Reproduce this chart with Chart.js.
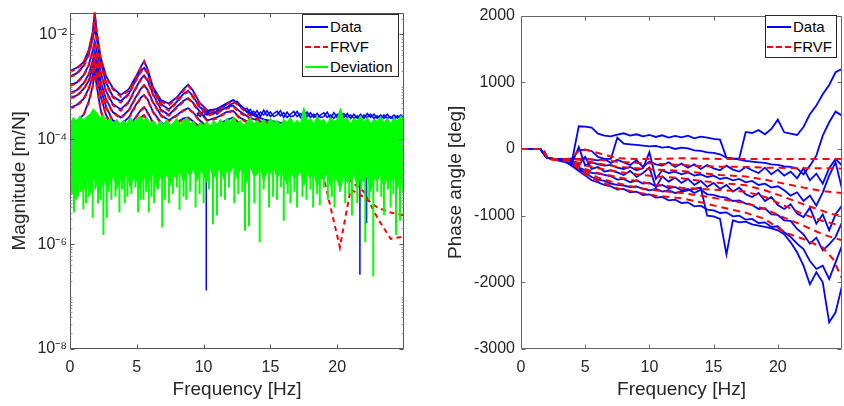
<!DOCTYPE html>
<html><head><meta charset="utf-8">
<script src="https://cdn.jsdelivr.net/npm/chart.js@4.4.1/dist/chart.umd.min.js"></script>
<style>
html,body{margin:0;padding:0;background:#fff;}
#wrap{position:relative;width:844px;height:406px;overflow:hidden;font-family:"Liberation Sans",Arial,sans-serif;}
#c1{position:absolute;left:0;top:0;}
#c2{position:absolute;left:420px;top:0;}
.legend{position:absolute;box-sizing:border-box;background:#fff;border:1px solid #262626;font-size:15px;color:#000;}
.row{position:absolute;left:0;height:18px;line-height:18px;white-space:nowrap;width:100%;}
.sw{position:absolute;top:8px;height:2px;}
.lbl{position:absolute;top:0;}
</style></head>
<body>
<div id="wrap">
  <canvas id="c1" width="420" height="406"></canvas>
  <canvas id="c2" width="424" height="406"></canvas>
  <div class="legend" style="left:302px;top:14px;width:97px;height:63px;">
    <div class="row" style="top:3px;"><span class="sw" style="left:2px;width:23px;background:#0000ff;"></span><span class="lbl" style="left:27px;">Data</span></div>
    <div class="row" style="top:23px;"><span class="sw" style="left:2px;width:23px;background:repeating-linear-gradient(to right,#ff0000 0 6px,transparent 6px 9px);"></span><span class="lbl" style="left:27px;">FRVF</span></div>
    <div class="row" style="top:43px;"><span class="sw" style="left:2px;width:23px;background:#00ff00;"></span><span class="lbl" style="left:27px;">Deviation</span></div>
  </div>
  <div class="legend" style="left:765px;top:15px;width:72px;height:43px;">
    <div class="row" style="top:2px;"><span class="sw" style="left:1px;width:24px;background:#0000ff;"></span><span class="lbl" style="left:27px;">Data</span></div>
    <div class="row" style="top:22px;"><span class="sw" style="left:1px;width:24px;background:repeating-linear-gradient(to right,#ff0000 0 6px,transparent 6px 9px);"></span><span class="lbl" style="left:27px;">FRVF</span></div>
  </div>
</div>
<script>
// ---------------- axis ticks ----------------
const freqTicks = [0, 5, 10, 15, 20];
const magTickValues = [1e-8, 1e-6, 1e-4, 1e-2];
const magTickLabels = ['10⁻⁸', '10⁻⁶', '10⁻⁴', '10⁻²'];
const phaseTickValues = [-3000, -2000, -1000, 0, 1000, 2000];

// ---------------- magnitude: FRVF fits and measured data [m/N] ----------------
const magFreq = [0, 0.5, 1.0, 1.4, 1.7, 1.85, 2.0, 2.3, 2.7, 3.2, 3.8, 4.4, 4.9, 5.3, 5.55, 5.8, 6.2, 6.8, 7.4, 8.0, 8.5, 8.85, 9.2, 9.7, 10.3, 11.0, 11.7, 12.2, 12.7, 13.4, 14.5, 16, 17.5, 19, 20.2, 21, 22, 23, 24, 25];
const magFit1 = [1.9e-3, 2.2e-3, 2.8e-3, 4.8e-3, 1.05e-2, 2.5e-2, 1.15e-2, 3.5e-3, 1.5e-3, 9.0e-4, 6.5e-4, 8.5e-4, 1.4e-3, 2.3e-3, 3.0e-3, 2.1e-3, 9.5e-4, 5.2e-4, 4.5e-4, 6.0e-4, 8.5e-4, 1.05e-3, 8.0e-4, 4.8e-4, 3.3e-4, 3.5e-4, 4.6e-4, 5.4e-4, 4.2e-4, 2.9e-4, 2.2e-4, 1.8e-4, 1.6e-4, 1.4e-4, 1.26e-4, 1.26e-4, 1.12e-4, 1.0e-4, 1.0e-4, 9.0e-5];
const magFit2 = [1.55e-3, 1.74e-3, 2.4e-3, 4.0e-3, 7.9e-3, 1.26e-2, 7.9e-3, 2.8e-3, 1.12e-3, 6.3e-4, 5.0e-4, 7.1e-4, 1.26e-3, 1.9e-3, 2.2e-3, 1.8e-3, 8.9e-4, 4.5e-4, 3.5e-4, 5.0e-4, 7.1e-4, 8.1e-4, 6.3e-4, 4.0e-4, 2.8e-4, 3.2e-4, 3.8e-4, 4.2e-4, 3.2e-4, 2.5e-4, 2.0e-4, 1.6e-4, 1.4e-4, 1.26e-4, 1.12e-4, 1.0e-4, 1.0e-4, 8.9e-5, 7.9e-5, 7.9e-5];
const magFit3 = [1.05e-3, 1.17e-3, 1.58e-3, 2.5e-3, 4.7e-3, 7.1e-3, 4.7e-3, 1.78e-3, 7.9e-4, 4.5e-4, 3.5e-4, 5.0e-4, 8.9e-4, 1.35e-3, 1.6e-3, 1.3e-3, 7.1e-4, 3.5e-4, 2.8e-4, 4.0e-4, 5.2e-4, 5.9e-4, 4.8e-4, 3.2e-4, 2.2e-4, 2.5e-4, 3.2e-4, 3.4e-4, 2.5e-4, 2.0e-4, 1.6e-4, 1.26e-4, 1.12e-4, 1.0e-4, 8.9e-5, 7.9e-5, 7.9e-5, 7.1e-5, 6.3e-5, 6.3e-5];
const magFit4 = [7.4e-4, 8.3e-4, 1.12e-3, 1.66e-3, 3.0e-3, 4.6e-3, 3.0e-3, 1.2e-3, 5.6e-4, 3.2e-4, 2.5e-4, 3.5e-4, 6.0e-4, 8.9e-4, 1.05e-3, 8.5e-4, 5.0e-4, 2.8e-4, 2.2e-4, 2.8e-4, 3.5e-4, 3.8e-4, 3.2e-4, 2.2e-4, 1.6e-4, 1.8e-4, 2.2e-4, 2.5e-4, 1.9e-4, 1.4e-4, 1.1e-4, 8.9e-5, 7.9e-5, 6.3e-5, 5.0e-5, 4.5e-5, 4.0e-5, 3.5e-5, 3.2e-5, 3.0e-5];
const magFit5 = [5.9e-4, 6.6e-4, 8.7e-4, 1.26e-3, 2.2e-3, 3.4e-3, 2.2e-3, 8.9e-4, 4.0e-4, 2.2e-4, 1.8e-4, 2.5e-4, 4.2e-4, 6.0e-4, 6.8e-4, 5.6e-4, 3.3e-4, 2.0e-4, 1.6e-4, 2.0e-4, 2.4e-4, 2.5e-4, 2.1e-4, 1.6e-4, 1.12e-4, 1.26e-4, 1.4e-4, 1.6e-4, 1.26e-4, 1.0e-4, 7.9e-5, 6.3e-5, 5.6e-5, 5.0e-5, 4.0e-5, 3.5e-5, 3.2e-5, 3.0e-5, 3.0e-5, 3.0e-5];
const magFit6 = [3.8e-4, 4.3e-4, 5.6e-4, 8.9e-4, 1.58e-3, 2.7e-3, 1.58e-3, 6.3e-4, 2.8e-4, 1.6e-4, 1.26e-4, 1.6e-4, 2.5e-4, 3.5e-4, 4.0e-4, 3.2e-4, 2.0e-4, 1.26e-4, 1.0e-4, 1.26e-4, 1.6e-4, 1.66e-4, 1.4e-4, 1.0e-4, 7.9e-5, 8.9e-5, 1.0e-4, 1.05e-4, 8.9e-5, 7.1e-5, 5.6e-5, 4.5e-5, 3.5e-5, 2.8e-5, 2.2e-5, 1.6e-5, 1.0e-5, 3.2e-6, 1.26e-6, 1.4e-6];
const magFit7 = [1.8e-4, 2.1e-4, 2.8e-4, 5.0e-4, 1.0e-3, 1.78e-3, 1.0e-3, 3.5e-4, 1.6e-4, 1.0e-4, 8.9e-5, 1.12e-4, 1.78e-4, 2.5e-4, 2.8e-4, 2.2e-4, 1.4e-4, 8.9e-5, 7.9e-5, 1.0e-4, 1.12e-4, 1.2e-4, 1.0e-4, 7.9e-5, 6.3e-5, 7.1e-5, 7.9e-5, 8.3e-5, 7.1e-5, 5.6e-5, 4.5e-5, 3.5e-5, 2.5e-5, 1.8e-5, 8.7e-7, 1.1e-5, 7.9e-6, 5.0e-6, 4.0e-6, 3.5e-6];

const magData1 = [2.0e-3, 2.3e-3, 2.9e-3, 5.0e-3, 1.1e-2, 2.6e-2, 1.1e-2, 3.6e-3, 1.6e-3, 9.5e-4, 7.0e-4, 9.0e-4, 1.5e-3, 2.4e-3, 3.1e-3, 2.2e-3, 1.0e-3, 5.6e-4, 4.8e-4, 6.3e-4, 9.0e-4, 1.1e-3, 8.5e-4, 5.0e-4, 3.5e-4, 3.8e-4, 4.8e-4, 5.6e-4, 4.4e-4, 3.1e-4, 2.4e-4, 2.0e-4, 1.8e-4, 1.6e-4, 1.5e-4, 1.4e-4, 1.3e-4, 1.2e-4, 1.1e-4, 1.0e-4];
const magData2 = [1.6e-3, 1.8e-3, 2.5e-3, 4.2e-3, 8.2e-3, 1.3e-2, 8.2e-3, 2.9e-3, 1.2e-3, 6.6e-4, 5.3e-4, 7.4e-4, 1.3e-3, 2.0e-3, 2.3e-3, 1.9e-3, 9.3e-4, 4.7e-4, 3.7e-4, 5.2e-4, 7.4e-4, 8.4e-4, 6.6e-4, 4.2e-4, 3.0e-4, 3.4e-4, 4.0e-4, 4.4e-4, 3.4e-4, 2.6e-4, 2.1e-4, 1.7e-4, 1.5e-4, 1.3e-4, 1.2e-4, 1.1e-4, 1.0e-4, 9.0e-5, 8.5e-5, 8.0e-5];
const magData3 = [1.1e-3, 1.2e-3, 1.65e-3, 2.6e-3, 4.9e-3, 7.3e-3, 4.9e-3, 1.85e-3, 8.3e-4, 4.7e-4, 3.7e-4, 5.2e-4, 9.3e-4, 1.4e-3, 1.65e-3, 1.35e-3, 7.4e-4, 3.7e-4, 2.9e-4, 4.2e-4, 5.4e-4, 6.1e-4, 5.0e-4, 3.4e-4, 2.3e-4, 2.6e-4, 3.3e-4, 3.5e-4, 2.6e-4, 2.1e-4, 1.7e-4, 1.3e-4, 1.2e-4, 1.05e-4, 9.5e-5, 8.5e-5, 8.0e-5, 7.5e-5, 7.0e-5, 6.5e-5];
const magData4 = [7.7e-4, 8.6e-4, 1.16e-3, 1.72e-3, 3.1e-3, 4.8e-3, 3.1e-3, 1.25e-3, 5.8e-4, 3.3e-4, 2.6e-4, 3.6e-4, 6.2e-4, 9.2e-4, 1.08e-3, 8.8e-4, 5.2e-4, 2.9e-4, 2.3e-4, 2.9e-4, 3.6e-4, 3.9e-4, 3.3e-4, 2.3e-4, 1.7e-4, 1.9e-4, 2.3e-4, 2.6e-4, 2.0e-4, 1.5e-4, 1.2e-4, 9.5e-5, 8.5e-5, 7.0e-5, 6.0e-5, 5.5e-5, 5.0e-5, 4.5e-5, 4.0e-5, 4.0e-5];
const magData5 = [6.1e-4, 6.8e-4, 9.0e-4, 1.3e-3, 2.3e-3, 3.5e-3, 2.3e-3, 9.2e-4, 4.2e-4, 2.3e-4, 1.9e-4, 2.6e-4, 4.4e-4, 6.2e-4, 7.0e-4, 5.8e-4, 3.4e-4, 2.1e-4, 1.7e-4, 2.1e-4, 2.5e-4, 2.6e-4, 2.2e-4, 1.7e-4, 1.2e-4, 1.3e-4, 1.5e-4, 1.7e-4, 1.3e-4, 1.05e-4, 8.5e-5, 7.0e-5, 6.0e-5, 5.5e-5, 5.0e-5, 4.5e-5, 4.0e-5, 4.0e-5, 4.0e-5, 4.0e-5];
const magData6 = [4.0e-4, 4.5e-4, 5.8e-4, 9.2e-4, 1.63e-3, 2.8e-3, 1.63e-3, 6.5e-4, 2.9e-4, 1.7e-4, 1.3e-4, 1.7e-4, 2.6e-4, 3.6e-4, 4.1e-4, 3.3e-4, 2.1e-4, 1.3e-4, 1.05e-4, 1.3e-4, 1.65e-4, 1.7e-4, 1.45e-4, 1.05e-4, 8.3e-5, 9.3e-5, 1.05e-4, 1.1e-4, 9.3e-5, 7.5e-5, 6.0e-5, 5.0e-5, 4.5e-5, 4.0e-5, 4.0e-5, 3.8e-5, 3.6e-5, 3.5e-5, 3.5e-5, 3.5e-5];
const magData7 = [1.9e-4, 2.2e-4, 2.9e-4, 5.2e-4, 1.04e-3, 1.85e-3, 1.04e-3, 3.6e-4, 1.7e-4, 1.05e-4, 9.3e-5, 1.17e-4, 1.85e-4, 2.6e-4, 2.9e-4, 2.3e-4, 1.45e-4, 9.3e-5, 8.3e-5, 1.05e-4, 1.17e-4, 1.25e-4, 1.05e-4, 8.3e-5, 6.6e-5, 7.4e-5, 8.3e-5, 8.7e-5, 7.4e-5, 6.0e-5, 5.0e-5, 4.5e-5, 4.0e-5, 4.0e-5, 3.8e-5, 3.6e-5, 3.5e-5, 3.5e-5, 3.5e-5, 3.5e-5];

// measured noise floor of the data showing above the deviation band
const blueNoiseFreq = [9.5, 9.75, 10, 10.25, 10.5, 10.75, 11, 11.25, 11.5, 11.75, 12, 12.25, 12.5, 12.75, 13, 13.25, 13.5, 13.75, 14, 14.25, 14.5, 14.75, 15, 15.25, 15.5, 15.75, 16, 16.25, 16.5, 16.75, 17, 17.25, 17.5, 17.75, 18, 18.25, 18.5, 18.75, 19, 19.25, 19.5, 19.75, 20, 20.25, 20.5, 20.75, 21, 21.25, 21.5, 21.75, 22, 22.25, 22.5, 22.75, 23, 23.25, 23.5, 23.75, 24, 24.25, 24.5, 24.75, 25];
const blueNoise = [3.2e-4, 2.7e-4, 3.4e-4, 2.9e-4, 3.6e-4, 3.0e-4, 3.5e-4, 3.9e-4, 4.2e-4, 4.6e-4, 5.2e-4, 5.6e-4, 4.8e-4, 4.2e-4, 3.6e-4, 3.9e-4, 3.1e-4, 3.4e-4, 2.8e-4, 3.3e-4, 2.9e-4, 3.5e-4, 2.7e-4, 3.1e-4, 3.4e-4, 2.8e-4, 3.2e-4, 2.6e-4, 3.0e-4, 3.4e-4, 2.7e-4, 3.1e-4, 2.8e-4, 3.3e-4, 2.6e-4, 3.0e-4, 2.5e-4, 2.9e-4, 3.2e-4, 2.6e-4, 2.9e-4, 2.5e-4, 3.0e-4, 2.7e-4, 3.1e-4, 2.6e-4, 2.9e-4, 2.5e-4, 2.8e-4, 2.4e-4, 2.9e-4, 2.6e-4, 3.0e-4, 2.5e-4, 2.8e-4, 2.4e-4, 2.9e-4, 2.5e-4, 2.7e-4, 2.4e-4, 2.8e-4, 2.5e-4, 2.7e-4];
const blueNoise2 = [2.8e-4, 3.3e-4, 2.7e-4, 3.5e-4, 2.9e-4, 3.6e-4, 3.0e-4, 3.4e-4, 3.8e-4, 4.0e-4, 4.6e-4, 4.9e-4, 5.3e-4, 4.5e-4, 4.0e-4, 3.3e-4, 3.7e-4, 2.9e-4, 3.5e-4, 2.7e-4, 3.6e-4, 2.8e-4, 3.3e-4, 2.7e-4, 2.9e-4, 3.5e-4, 2.6e-4, 3.3e-4, 2.7e-4, 2.8e-4, 3.4e-4, 2.6e-4, 3.5e-4, 2.7e-4, 3.2e-4, 2.6e-4, 3.1e-4, 2.6e-4, 2.7e-4, 3.3e-4, 2.5e-4, 3.2e-4, 2.6e-4, 3.5e-4, 2.6e-4, 3.1e-4, 2.5e-4, 3.0e-4, 2.5e-4, 3.0e-4, 2.5e-4, 3.1e-4, 2.6e-4, 3.0e-4, 2.5e-4, 2.9e-4, 2.5e-4, 3.0e-4, 2.5e-4, 2.9e-4, 2.5e-4, 2.9e-4, 2.5e-4];
const blueSpikeFreq = [10.2, 21.7, 22.2];
const blueSpikeLow = [1.3e-7, 2.6e-7, 2.5e-6];

// deviation band: upper edge, lower edge, dips
const devFreq = [0, 0.25, 0.5, 0.75, 1, 1.25, 1.5, 1.75, 2, 2.25, 2.5, 2.75, 3, 3.25, 3.5, 3.75, 4, 4.25, 4.5, 4.75, 5, 5.25, 5.5, 5.75, 6, 6.25, 6.5, 6.75, 7, 7.25, 7.5, 7.75, 8, 8.25, 8.5, 8.75, 9, 9.25, 9.5, 9.75, 10, 10.25, 10.5, 10.75, 11, 11.25, 11.5, 11.75, 12, 12.25, 12.5, 12.75, 13, 13.25, 13.5, 13.75, 14, 14.25, 14.5, 14.75, 15, 15.25, 15.5, 15.75, 16, 16.25, 16.5, 16.75, 17, 17.25, 17.5, 17.75, 18, 18.25, 18.5, 18.75, 19, 19.25, 19.5, 19.75, 20, 20.25, 20.5, 20.75, 21, 21.25, 21.5, 21.75, 22, 22.25, 22.5, 22.75, 23, 23.25, 23.5, 23.75, 24, 24.25, 24.5, 24.75, 25];
const devUpper = [2.0e-4, 2.6e-4, 2.2e-4, 2.8e-4, 2.3e-4, 2.7e-4, 3.0e-4, 3.8e-4, 3.2e-4, 2.6e-4, 2.9e-4, 2.2e-4, 2.5e-4, 2.0e-4, 2.4e-4, 1.9e-4, 2.3e-4, 2.0e-4, 2.6e-4, 2.1e-4, 2.4e-4, 2.8e-4, 2.3e-4, 2.6e-4, 2.0e-4, 2.3e-4, 1.8e-4, 2.2e-4, 1.9e-4, 2.4e-4, 1.8e-4, 2.1e-4, 2.5e-4, 1.9e-4, 2.3e-4, 2.6e-4, 2.0e-4, 2.2e-4, 1.7e-4, 2.1e-4, 1.8e-4, 2.2e-4, 1.7e-4, 2.3e-4, 1.9e-4, 2.4e-4, 2.0e-4, 2.5e-4, 2.1e-4, 2.7e-4, 2.0e-4, 2.3e-4, 1.8e-4, 2.2e-4, 2.6e-4, 1.9e-4, 2.3e-4, 2.0e-4, 2.4e-4, 1.9e-4, 2.5e-4, 2.1e-4, 2.3e-4, 1.8e-4, 2.4e-4, 2.1e-4, 2.6e-4, 2.0e-4, 2.3e-4, 2.0e-4, 4.0e-4, 2.2e-4, 2.5e-4, 2.0e-4, 2.7e-4, 2.2e-4, 2.4e-4, 1.9e-4, 2.6e-4, 2.2e-4, 2.4e-4, 3.9e-4, 2.3e-4, 2.6e-4, 2.0e-4, 2.5e-4, 2.2e-4, 2.8e-4, 2.1e-4, 2.6e-4, 2.0e-4, 2.4e-4, 2.2e-4, 2.7e-4, 2.1e-4, 2.5e-4, 2.0e-4, 2.6e-4, 2.2e-4, 2.8e-4, 2.4e-4];
const devLower = [1.4e-5, 1.1e-5, 2.0e-5, 1.3e-5, 1.0e-5, 1.8e-5, 1.2e-5, 2.2e-5, 1.3e-5, 0.9e-5, 1.9e-5, 1.2e-5, 1.4e-5, 2.1e-5, 1.1e-5, 1.7e-5, 1.5e-5, 2.2e-5, 1.2e-5, 1.8e-5, 1.6e-5, 1.1e-5, 2.3e-5, 1.4e-5, 1.7e-5, 2.4e-5, 1.2e-5, 1.9e-5, 1.6e-5, 2.2e-5, 1.3e-5, 2.0e-5, 1.8e-5, 2.6e-5, 1.5e-5, 2.4e-5, 2.0e-5, 2.8e-5, 1.6e-5, 2.5e-5, 2.1e-5, 1.5e-5, 2.9e-5, 1.8e-5, 2.2e-5, 3.0e-5, 1.7e-5, 2.6e-5, 2.3e-5, 3.2e-5, 1.8e-5, 2.7e-5, 2.2e-5, 1.5e-5, 3.0e-5, 2.0e-5, 2.1e-5, 2.8e-5, 1.6e-5, 2.5e-5, 2.2e-5, 3.1e-5, 1.7e-5, 2.6e-5, 2.0e-5, 1.4e-5, 2.7e-5, 1.8e-5, 1.9e-5, 2.5e-5, 1.3e-5, 2.2e-5, 1.8e-5, 2.4e-5, 1.2e-5, 2.0e-5, 1.7e-5, 2.3e-5, 1.3e-5, 2.1e-5, 1.6e-5, 1.1e-5, 2.2e-5, 1.5e-5, 1.7e-5, 2.3e-5, 1.2e-5, 1.9e-5, 1.5e-5, 2.1e-5, 1.0e-5, 1.8e-5, 1.6e-5, 2.2e-5, 1.2e-5, 1.9e-5, 1.5e-5, 2.0e-5, 1.1e-5, 1.8e-5, 1.6e-5];
const spikeTop = 3.0e-5;
const spikeFreq = [0.3, 0.6, 1.0, 1.4, 1.7, 2.1, 2.5, 2.75, 3.1, 3.7, 4.3, 5.1, 5.5, 5.9, 6.3, 6.9, 7.4, 8.2, 8.7, 9.4, 10.0, 10.7, 11.0, 11.6, 12.3, 13.1, 13.4, 13.8, 14.2, 14.9, 15.5, 16.0, 16.5, 17.0, 17.7, 18.2, 18.7, 19.3, 19.8, 20.6, 21.1, 21.5, 22.1, 22.7, 23.5, 24.0, 24.4, 24.7];
const spikeLow = [4.0e-6, 8.0e-6, 4.6e-6, 8.0e-6, 3.2e-6, 6.0e-6, 1.5e-6, 3.2e-6, 7.0e-6, 4.0e-6, 8.0e-6, 4.0e-6, 7.0e-6, 4.0e-6, 6.0e-6, 2.1e-6, 6.0e-6, 4.5e-6, 7.0e-6, 5.0e-6, 6.0e-6, 2.4e-6, 3.5e-6, 7.0e-6, 6.0e-6, 1.8e-6, 2.2e-6, 6.0e-6, 1.1e-6, 5.0e-6, 7.0e-6, 2.8e-6, 6.0e-6, 5.0e-6, 7.0e-6, 5.0e-6, 5.5e-6, 7.0e-6, 5.0e-6, 6.0e-6, 3.5e-6, 6.0e-6, 1.1e-6, 2.4e-7, 3.6e-6, 5.0e-6, 1.5e-6, 2.8e-6];
const shallowSpikeFreq = [0.15, 0.45, 0.8, 1.2, 1.55, 1.9, 2.3, 2.9, 3.4, 3.9, 4.1, 4.6, 4.9, 5.3, 5.7, 6.1, 6.6, 7.1, 7.7, 8.0, 8.5, 9.0, 9.7, 10.4, 11.3, 11.9, 12.6, 12.9, 14.5, 15.2, 15.8, 16.3, 16.8, 17.4, 18.0, 18.5, 19.0, 19.6, 20.2, 20.9, 21.8, 22.4, 23.0, 23.3, 23.8, 24.2, 24.9];
const shallowSpikeLow = [9e-6, 7e-6, 1.0e-5, 6e-6, 9e-6, 1.1e-5, 7e-6, 1.0e-5, 8e-6, 1.1e-5, 6e-6, 9e-6, 1.2e-5, 7e-6, 1.0e-5, 8e-6, 1.1e-5, 7e-6, 9e-6, 1.2e-5, 8e-6, 1.0e-5, 9e-6, 1.1e-5, 8e-6, 1.2e-5, 9e-6, 1.0e-5, 1.1e-5, 8e-6, 1.2e-5, 9e-6, 1.0e-5, 8e-6, 1.1e-5, 9e-6, 1.2e-5, 8e-6, 1.0e-5, 9e-6, 1.1e-5, 7e-6, 1.0e-5, 8e-6, 1.1e-5, 9e-6, 1.0e-5];

// ---------------- phase angle [deg] ----------------
const phFitFreq = [0, 1.7, 2.1, 3.8, 4.5, 5, 6, 7.5, 9, 10.5, 12.5, 14, 15.5, 17.5, 19, 20.5, 22, 23.5, 24.3, 25];
const phFit1 = [0, 0, -150, -150, -30, -10, -60, -140, -150, -150, -140, -145, -150, -150, -150, -150, -150, -150, -150, -150];
const phFit2 = [0, 0, -150, -150, -150, -150, -160, -190, -210, -220, -240, -255, -265, -270, -280, -285, -290, -290, -290, -295];
const phFit3 = [0, 0, -150, -150, -160, -180, -220, -265, -290, -310, -330, -360, -390, -412, -460, -520, -580, -630, -650, -660];
const phFit4 = [0, 0, -150, -160, -210, -245, -290, -340, -380, -410, -440, -480, -510, -544, -620, -720, -830, -930, -980, -1000];
const phFit5 = [0, 0, -150, -170, -250, -300, -360, -420, -480, -540, -580, -600, -615, -640, -720, -850, -980, -1080, -1120, -1150];
const phFit6 = [0, 0, -150, -180, -280, -330, -430, -515, -580, -620, -660, -700, -750, -809, -900, -1030, -1150, -1280, -1330, -1370];
const phFit7 = [0, 0, -150, -190, -300, -380, -480, -590, -650, -700, -740, -800, -870, -956, -1050, -1250, -1350, -1480, -1650, -1940];

const phDataFreq = [0, 0.5, 1, 1.5, 2, 2.5, 3, 3.5, 4, 4.5, 5, 5.5, 6, 6.5, 7, 7.5, 8, 8.5, 9, 9.5, 10, 10.5, 11, 11.5, 12, 12.5, 13, 13.5, 14, 14.5, 15, 15.5, 16, 16.5, 17, 17.5, 18, 18.5, 19, 19.5, 20, 20.5, 21, 21.5, 22, 22.5, 23, 23.5, 24, 24.5, 25];
const phData1 = [0, 0, 0, 0, -130, -150, -150, -155, -150, 340, 335, 320, 230, 200, 190, 215, 235, 200, 220, 190, 210, 180, 205, 170, 195, 175, 200, 160, 185, 170, 150, 140, -130, -150, -140, 255, 240, 285, 220, 300, 440, 250, 230, 210, 330, 520, 650, 820, 960, 1150, 1200];
const phData2 = [0, 0, 0, 0, -130, -150, -150, -150, -140, -20, -10, -30, -120, -150, -150, 170, 80, 70, 60, 50, 40, 45, 20, 30, 0, 20, 10, -20, -30, -50, -60, -80, -130, -140, -160, -180, -190, -200, -210, -230, -240, -260, -270, -290, -380, -250, -100, 200, 400, 560, 500];
const phData3 = [0, 0, 0, 0, -130, -150, -150, -150, -150, -150, -140, -160, -170, -150, -210, -160, -200, -240, -170, -270, -190, -230, -250, -200, -270, -220, -280, -230, -300, -240, -290, -320, -250, -310, -340, -270, -320, -360, -280, -380, -310, -400, -340, -440, -290, -470, -370, -520, -290, -150, -250];
const phData4 = [0, 0, 0, 0, -130, -150, -150, -150, -200, 30, -250, -200, -230, -250, -240, -280, -300, -270, -320, -290, -50, -450, -320, -360, -340, -380, -350, -400, -380, -420, -400, -450, -430, -470, -450, -500, -480, -540, -520, -580, -560, -620, -700, -650, -780, -700, -850, -650, -400, -200, -600];
const phData5 = [0, 0, 0, 0, -130, -150, -155, -160, -180, -240, -120, -300, -270, -340, -320, -350, -390, -330, -420, -360, -280, -580, -410, -490, -430, -510, -450, -540, -480, -570, -510, -600, -540, -640, -580, -680, -720, -660, -780, -720, -840, -900, -830, -970, -1020, -880, -1120, -980, -1220, -980, -850];
const phData6 = [0, 0, 0, 0, -130, -150, -160, -170, -220, -280, -320, -360, -370, -390, -410, -460, -450, -500, -470, -520, -510, -560, -540, -590, -570, -620, -600, -660, -610, -680, -690, -720, -730, -780, -770, -820, -840, -900, -890, -980, -990, -1070, -1080, -1200, -1280, -1420, -1330, -1520, -1430, -1320, -1100];
const phData7 = [0, 0, 0, 0, -130, -150, -170, -180, -250, -300, -360, -420, -460, -480, -520, -540, -550, -570, -560, -600, -620, -600, -640, -620, -660, -640, -620, -600, -580, -1000, -1010, -1050, -1580, -1070, -1100, -1090, -1130, -1150, -1170, -1190, -1220, -1280, -1400, -1550, -1750, -2030, -1850, -2000, -2600, -2450, -2050];
const phData8 = [0, 0, 0, 0, -130, -150, -180, -200, -260, -330, -400, -470, -500, -540, -560, -610, -600, -650, -640, -690, -680, -730, -720, -770, -760, -810, -800, -860, -850, -910, -920, -960, -950, -1010, -1000, -1060, -1050, -1110, -1100, -1170, -1160, -1250, -1320, -1420, -1500, -1680, -1800, -1750, -1950, -1700, -1450];

// ---------------- rendering ----------------
const BLUE = '#0000ff', RED = '#ff0000', GREEN = '#00ff00', INK = '#262626';
Chart.defaults.font.family = '"Liberation Sans", Arial, sans-serif';
Chart.defaults.color = INK;

function pts(xs, ys) { return xs.map((x, i) => ({ x: x, y: ys[i] })); }
function spikes(xs, lows, top) {
  const out = [];
  xs.forEach((x, i) => { out.push({ x: x, y: top }, { x: x, y: lows[i] }, { x: x, y: null }); });
  return out;
}

const boxPlugin = {
  id: 'box',
  afterDraw(chart, args, o) {
    const ctx = chart.ctx, a = chart.chartArea, xs = chart.scales.x, ys = chart.scales.y;
    const L = Math.round(a.left) + 0.5, R = Math.round(a.right) - 0.5;
    const T = Math.round(a.top) + 0.5, B = Math.round(a.bottom) - 0.5;
    ctx.save();
    ctx.strokeStyle = o.color; ctx.lineWidth = 1;
    ctx.beginPath(); ctx.rect(L, T, R - L, B - T); ctx.stroke();
    ctx.beginPath();
    const tl = 4;
    xs.ticks.forEach(t => { const p = Math.round(xs.getPixelForValue(t.value)) + 0.5;
      ctx.moveTo(p, B); ctx.lineTo(p, B - tl); ctx.moveTo(p, T); ctx.lineTo(p, T + tl); });
    ys.ticks.forEach(t => { const p = Math.round(ys.getPixelForValue(t.value)) + 0.5;
      ctx.moveTo(L, p); ctx.lineTo(L + tl, p); ctx.moveTo(R, p); ctx.lineTo(R - tl, p); });
    ctx.stroke();
    if (o.logMinor) {
      ctx.strokeStyle = '#999'; ctx.beginPath();
      for (let e = -8; e <= -2; e++) for (let m = 1; m < 10; m++) {
        const v = m * Math.pow(10, e);
        if (v > ys.max || (m === 1 && e % 2 === 0)) continue;
        const p = Math.round(ys.getPixelForValue(v)) + 0.5;
        ctx.moveTo(L, p); ctx.lineTo(L + 2, p); ctx.moveTo(R, p); ctx.lineTo(R - 2, p);
      }
      ctx.stroke();
    }
    ctx.restore();
  }
};

function xAxis() {
  return {
    type: 'linear', min: 0, max: 25,
    grid: { display: false, drawTicks: false }, border: { display: false },
    afterBuildTicks: s => { s.ticks = freqTicks.map(v => ({ value: v })); },
    ticks: { font: { size: 16 }, color: INK, padding: 9, autoSkip: false, maxRotation: 0, callback: v => String(v) },
    title: { display: true, text: 'Frequency [Hz]', font: { size: 19 }, color: INK, padding: { top: 0, bottom: 5 } },
    afterFit: s => { s.height = 57; }
  };
}

const common = {
  responsive: false, animation: false, devicePixelRatio: 1, events: [],
  elements: { point: { radius: 0 }, line: { tension: 0 } },
};

// magnitude chart
const magDatasets = [];
magDatasets.push({ data: pts(devFreq, devUpper), borderColor: GREEN, backgroundColor: GREEN, borderWidth: 1, fill: '+1', order: 10 });
magDatasets.push({ data: pts(devFreq, devLower), borderColor: GREEN, borderWidth: 1, fill: false, order: 11 });
magDatasets.push({ data: spikes(spikeFreq, spikeLow, spikeTop), borderColor: GREEN, borderWidth: 2, fill: false, order: 5 });
magDatasets.push({ data: spikes(shallowSpikeFreq, shallowSpikeLow, spikeTop), borderColor: GREEN, borderWidth: 2, fill: false, order: 6 });
magDatasets.push({ data: spikes(blueSpikeFreq, blueSpikeLow, spikeTop), borderColor: BLUE, borderWidth: 1.5, fill: false, order: 40 });
magDatasets.push({ data: pts(blueNoiseFreq, blueNoise), borderColor: BLUE, borderWidth: 1.5, fill: false, order: 35 });
magDatasets.push({ data: pts(blueNoiseFreq, blueNoise2), borderColor: BLUE, borderWidth: 1.5, fill: false, order: 36 });
[magData1, magData2, magData3, magData4, magData5, magData6, magData7].forEach(d =>
  magDatasets.push({ data: pts(magFreq, d), borderColor: BLUE, borderWidth: 1.8, fill: false, order: 30 }));
[magFit1, magFit2, magFit3, magFit4, magFit5, magFit6, magFit7].forEach(d =>
  magDatasets.push({ data: pts(magFreq, d), borderColor: RED, borderWidth: 2, borderDash: [5, 4], fill: false, order: 20 }));

new Chart(document.getElementById('c1'), {
  type: 'line',
  data: { datasets: magDatasets },
  plugins: [boxPlugin],
  options: Object.assign({}, common, {
    layout: { padding: { top: 8, right: 16, left: 0, bottom: 0 } },
    plugins: { legend: { display: false }, tooltip: { enabled: false }, box: { color: '#555', logMinor: true } },
    scales: {
      x: xAxis(),
      y: {
        type: 'logarithmic', min: 1e-8, max: 0.026,
        grid: { display: false, drawTicks: false }, border: { display: false },
        afterBuildTicks: s => { s.ticks = magTickValues.map(v => ({ value: v })); },
        ticks: { font: { size: 16 }, color: INK, padding: 3, autoSkip: false, callback: (v, i) => magTickLabels[i] },
        title: { display: true, text: 'Magnitude [m/N]', font: { size: 19 }, color: INK, padding: { top: 8, bottom: 0 } },
        afterFit: s => { s.width = 70; }
      }
    }
  })
});

// phase chart
const phDatasets = [];
[phData1, phData2, phData3, phData4, phData5, phData6, phData7, phData8].forEach(d =>
  phDatasets.push({ data: pts(phDataFreq, d), borderColor: BLUE, borderWidth: 1.8, fill: false, order: 20 }));
[phFit1, phFit2, phFit3, phFit4, phFit5, phFit6, phFit7].forEach(d =>
  phDatasets.push({ data: pts(phFitFreq, d), borderColor: RED, borderWidth: 2, borderDash: [7, 5], fill: false, order: 10 }));

new Chart(document.getElementById('c2'), {
  type: 'line',
  data: { datasets: phDatasets },
  plugins: [boxPlugin],
  options: Object.assign({}, common, {
    layout: { padding: { top: 12, right: 2, left: 0, bottom: 0 } },
    plugins: { legend: { display: false }, tooltip: { enabled: false }, box: { color: '#666', logMinor: false } },
    scales: {
      x: xAxis(),
      y: {
        type: 'linear', min: -3000, max: 2000,
        grid: { display: false, drawTicks: false }, border: { display: false },
        afterBuildTicks: s => { s.ticks = phaseTickValues.map(v => ({ value: v })); },
        ticks: { font: { size: 16 }, color: INK, padding: 6, autoSkip: false, callback: v => String(v) },
        title: { display: true, text: 'Phase angle [deg]', font: { size: 19 }, color: INK, padding: { top: 24, bottom: 0 } },
        afterFit: s => { s.width = 101; }
      }
    }
  })
});
</script>
</body></html>
